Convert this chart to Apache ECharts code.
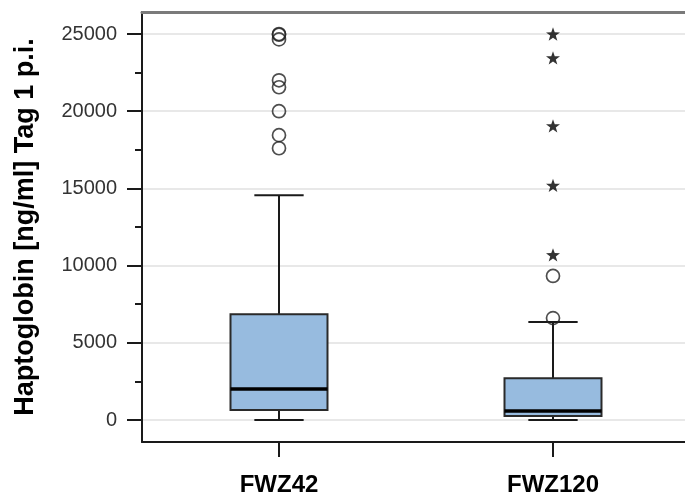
<!DOCTYPE html>
<html>
<head>
<meta charset="utf-8">
<script src="https://cdn.jsdelivr.net/npm/echarts@6/dist/echarts.min.js"></script>
<style>
html,body{margin:0;padding:0;background:#fff;}
#chart{width:685px;height:503px;}
</style>
</head>
<body>
<div id="chart"></div>
<script>
const categories = ['FWZ42', 'FWZ120'];
const boxMin = [0, 0];
const boxQ1 = [650, 260];
const boxMedian = [2000, 580];
const boxQ3 = [6850, 2700];
const boxMax = [14550, 6350];
const circlesFWZ42 = [25000, 24950, 24650, 22000, 21550, 20000, 18450, 17600];
const circlesFWZ120 = [9330, 6600];
const starsFWZ42 = [];
const starsFWZ120 = [25000, 23450, 19050, 15200, 10700];
const yTicks = [0, 5000, 10000, 15000, 20000, 25000];
const yMinorTicks = [2500, 7500, 12500, 17500, 22500];
const yTitle = 'Haptoglobin [ng/ml] Tag 1 p.i.';

const FONT = "'Liberation Sans', Arial, sans-serif";
const STAR = 'path://M50 0 L61.76 33.82 L97.55 34.55 L69.02 56.18 L79.39 90.45 L50 70 L20.61 90.45 L30.98 56.18 L2.45 34.55 L38.24 33.82 Z';

const boxData = categories.map((c, i) => [i, boxMin[i], boxQ1[i], boxMedian[i], boxQ3[i], boxMax[i]]);
const circleData = [];
circlesFWZ42.forEach(v => circleData.push([0, v]));
circlesFWZ120.forEach(v => circleData.push([1, v]));
const starData = [];
starsFWZ42.forEach(v => starData.push([0, v]));
starsFWZ120.forEach(v => starData.push([1, v]));

function renderBox(params, api) {
  const i = api.value(0);
  const band = api.size([1, 0])[0];
  const hb = band * 0.177;
  const hc = band * 0.09;
  const pMin = api.coord([i, api.value(1)]);
  const pQ1 = api.coord([i, api.value(2)]);
  const pMed = api.coord([i, api.value(3)]);
  const pQ3 = api.coord([i, api.value(4)]);
  const pMax = api.coord([i, api.value(5)]);
  const x = pMed[0];
  const lineStyle = { stroke: '#1a1a1a', lineWidth: 2 };
  return {
    type: 'group',
    children: [
      { type: 'line', shape: { x1: x, y1: pQ1[1], x2: x, y2: pMin[1] }, style: lineStyle },
      { type: 'line', shape: { x1: x - hc, y1: pMin[1], x2: x + hc, y2: pMin[1] }, style: lineStyle },
      { type: 'line', shape: { x1: x, y1: pQ3[1], x2: x, y2: pMax[1] }, style: lineStyle },
      { type: 'line', shape: { x1: x - hc, y1: pMax[1], x2: x + hc, y2: pMax[1] }, style: lineStyle },
      { type: 'rect', shape: { x: x - hb, y: pQ3[1], width: 2 * hb, height: pQ1[1] - pQ3[1] },
        style: { fill: '#97bbdf', stroke: '#2a2a2a', lineWidth: 2 } },
      { type: 'line', shape: { x1: x - hb, y1: pMed[1], x2: x + hb, y2: pMed[1] },
        style: { stroke: '#000', lineWidth: 3.5 } }
    ]
  };
}

const chart = echarts.init(document.getElementById('chart'), null, { renderer: 'canvas' });
chart.setOption({
  backgroundColor: '#fff',
  animation: false,
  grid: { left: 142, right: -5, top: 12, bottom: 61, containLabel: false, outerBoundsMode: 'none' },
  xAxis: [
    {
      type: 'category', position: 'bottom', data: categories, boundaryGap: true,
      axisLine: { show: true, onZero: false, lineStyle: { color: '#1a1a1a', width: 2 } },
      axisTick: { show: true, alignWithLabel: true, length: 15, lineStyle: { color: '#1a1a1a', width: 2 } },
      axisLabel: { show: true, margin: 31, color: '#000', fontSize: 24, fontWeight: 'bold', fontFamily: FONT },
      splitLine: { show: false }
    },
    {
      type: 'category', position: 'top', data: categories, boundaryGap: true,
      axisLine: { show: true, onZero: false, lineStyle: { color: '#7a7a7a', width: 3 } },
      axisTick: { show: false }, axisLabel: { show: false }, splitLine: { show: false }
    }
  ],
  yAxis: [
    {
      type: 'value', position: 'left', min: -1425, max: 26425,
      name: yTitle, nameLocation: 'middle', nameGap: 103,
      nameTextStyle: { color: '#000', fontSize: 27, fontWeight: 'bold', fontFamily: FONT },
      axisLine: { show: true, onZero: false, lineStyle: { color: '#1a1a1a', width: 2 } },
      axisTick: { show: true, customValues: yTicks, length: 15, lineStyle: { color: '#1a1a1a', width: 2 } },
      axisLabel: { show: true, customValues: yTicks, margin: 25, color: '#333', fontSize: 20, fontFamily: FONT,
        formatter: v => String(Math.round(v)) },
      splitLine: { show: false }
    },
    {
      type: 'value', position: 'left', min: -1425, max: 26425,
      axisLine: { show: false, onZero: false },
      axisTick: { show: true, customValues: yMinorTicks, length: 7, lineStyle: { color: '#1a1a1a', width: 2 } },
      axisLabel: { show: false },
      splitLine: { show: false }
    }
  ],
  series: [
    {
      type: 'line', data: [], z: 0, zlevel: 0, silent: true,
      markLine: {
        z: 0, silent: true, symbol: ['none', 'none'], animation: false,
        label: { show: false },
        lineStyle: { color: '#e8e8e8', width: 2, type: 'solid' },
        data: yTicks.map(v => ({ yAxis: v }))
      }
    },
    {
      type: 'custom', renderItem: renderBox, data: boxData, z: 4,
      encode: { x: 0, y: [1, 2, 3, 4, 5] }
    },
    {
      type: 'scatter', data: circleData, z: 6, symbol: 'circle', symbolSize: 13,
      itemStyle: { color: 'rgba(0,0,0,0)', borderColor: '#222', borderWidth: 1.7 }
    },
    {
      type: 'scatter', data: starData, z: 6, symbol: STAR, symbolSize: 14, symbolKeepAspect: true,
      itemStyle: { color: '#000' }
    }
  ]
});
</script>
</body>
</html>
